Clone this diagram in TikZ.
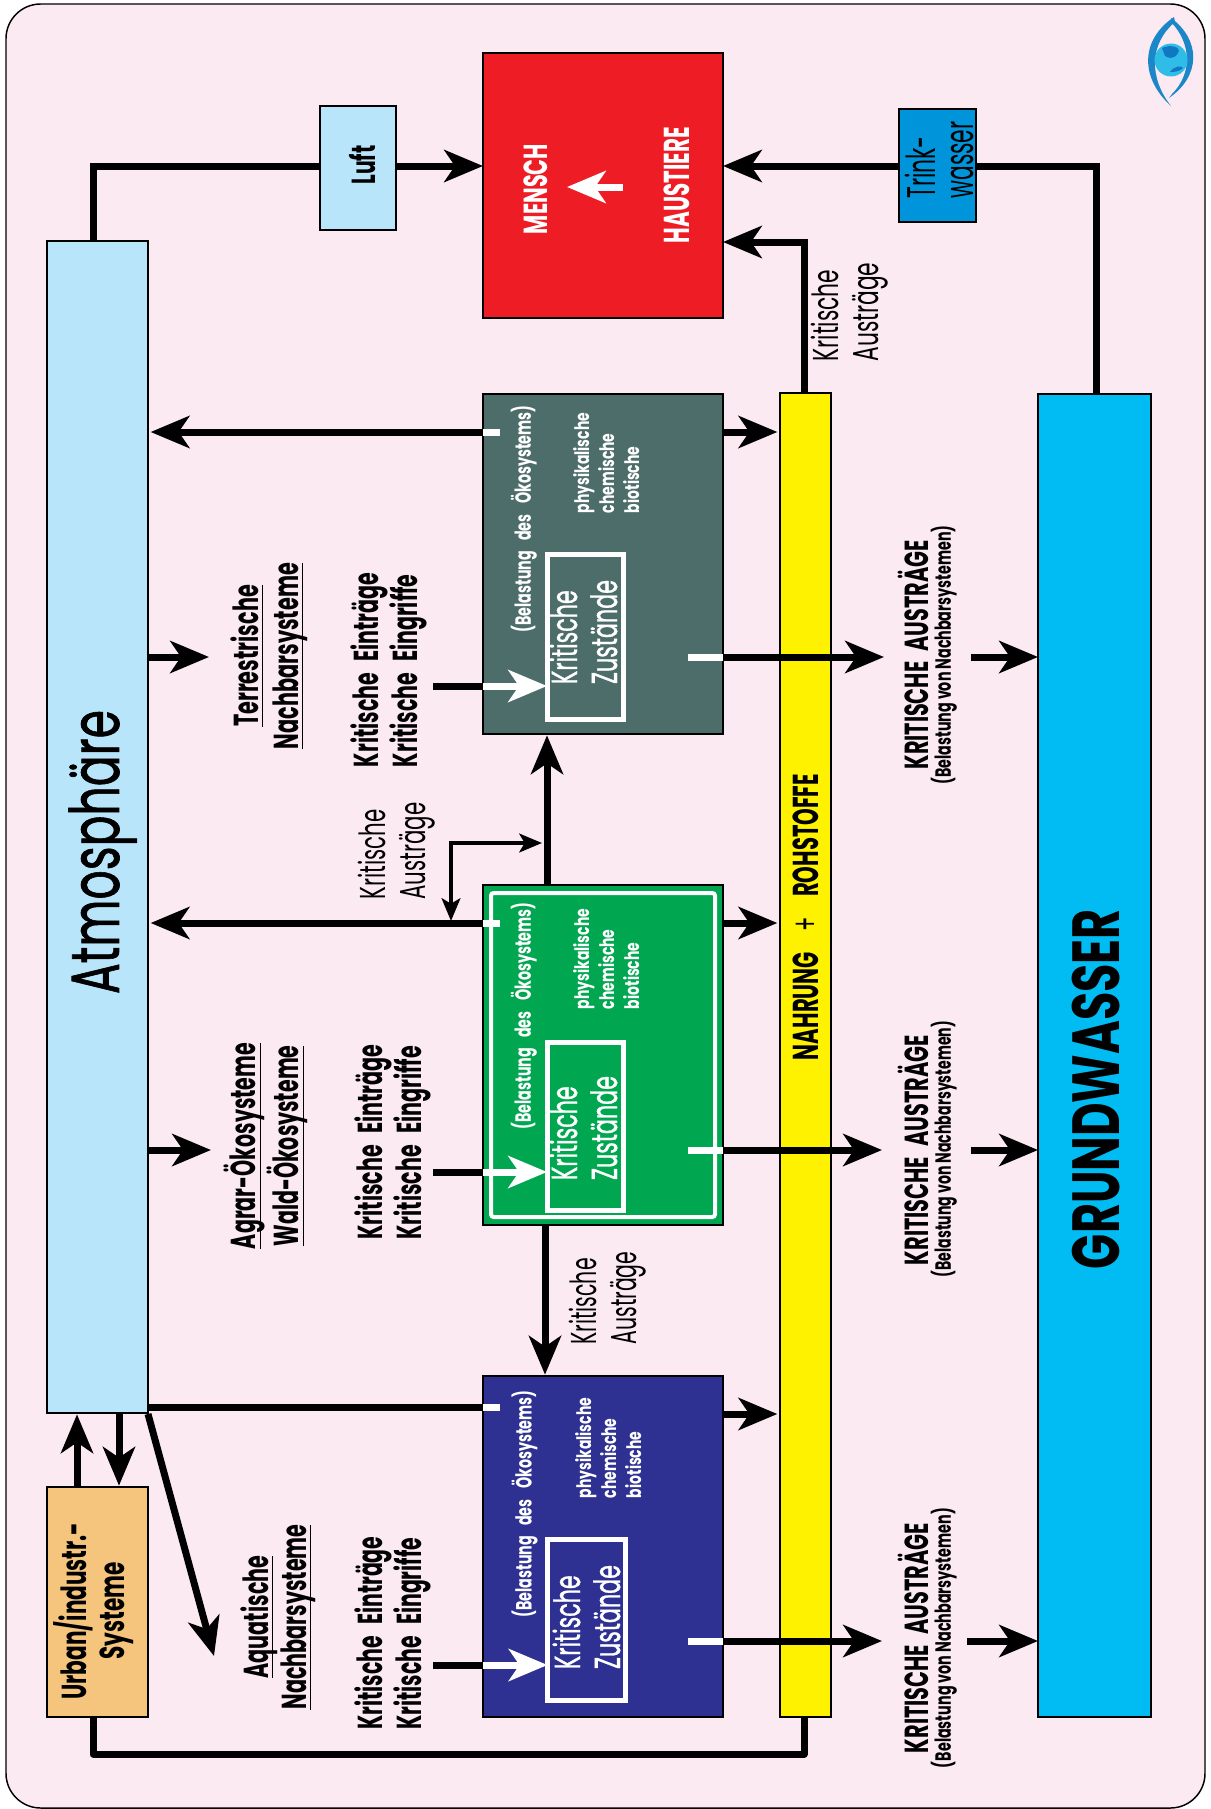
\documentclass[tikz,border=0pt]{standalone}
\usepackage{fontspec}
\usepackage{graphicx}
\setmainfont{Poppins}
\newfontfamily\pfat[FakeBold=1.2]{Poppins}
\usetikzlibrary{arrows.meta,calc}
\definecolor{bgpink}{HTML}{FCEAF3}
\definecolor{cred}{HTML}{EE1C25}
\definecolor{cteal}{HTML}{4D6D6B}
\definecolor{cgreen}{HTML}{00A650}
\definecolor{cblue}{HTML}{2E3192}
\definecolor{cyellow}{HTML}{FFF200}
\definecolor{cground}{HTML}{00BCF2}
\definecolor{catm}{HTML}{B9E5FB}
\definecolor{ctrink}{HTML}{0095DA}
\definecolor{curban}{HTML}{F5C47D}
\definecolor{eyeblue}{HTML}{1B87C9}
\definecolor{globe}{HTML}{2FBDE8}
\definecolor{land}{HTML}{0F78C0}
\newlength\pxu
\setlength\pxu{0.75pt}
\newcommand\tx[5]{\resizebox{#3\pxu}{\height}{\fontsize{#1}{#2}\selectfont\begin{tabular}{@{}#4@{}}#5\end{tabular}}}
\newsavebox\ulbox
\newcommand\ul[1]{\sbox\ulbox{#1}\rlap{\usebox\ulbox}\rule[-3.6pt]{\wd\ulbox}{0.5pt}}
\newcommand\boxnode[7][]{\node[box,fill=#7,minimum width={(#5-#3)*0.75pt},minimum height={(#6-#4)*0.75pt},#1] (#2) at ({(#3+#5)/2},{(#4+#6)/2}) {};}
\tikzset{
  box/.style={draw=black,line width=1.1pt,inner sep=0pt,outer sep=0pt,rectangle},
  lab/.style={rotate=90,inner sep=0pt,outer sep=0pt,anchor=center},
  labb/.style={lab,font=\bfseries},
  labf/.style={lab,font=\pfat},
  wlab/.style={labf,text=white},
  wlabb/.style={labb,text=white},
  flow/.style={line width=5.25pt,line join=miter},
  bigarrow/.style={flow,-{Stealth[length=29pt,width=24pt,inset=8pt]}},
  whitearrow/.style={flow,white,-{Stealth[length=29pt,width=24pt,inset=8pt]}},
  stub/.style={line width=5.25pt,white},
  thinarrow/.style={line width=3pt,{Stealth[length=17pt,width=14pt,inset=4pt]}-{Stealth[length=17pt,width=14pt,inset=4pt]}},
  krit/.style={draw=white,line width=3.75pt,inner sep=0pt,outer sep=0pt,rectangle},
}
\begin{document}
\begin{tikzpicture}[x=0.75pt,y=-0.75pt]
\useasboundingbox (0,0) rectangle (1210,1809);
\fill[white] (0,0) rectangle (1210,1809);
\draw[fill=bgpink,line width=1.1pt,rounded corners=26pt] (6,4) rectangle (1205,1808);

% eye logo
\fill[eyeblue] (1174,17) .. controls (1140,40) and (1140,78) .. (1171,106) .. controls (1149,78) and (1149,44) .. (1175,22) -- cycle;
\fill[eyeblue] (1171,18) .. controls (1201,40) and (1201,76) .. (1169,98) -- (1172,94) .. controls (1192,74) and (1192,44) .. (1171,22) -- cycle;
\fill[globe] (1171,60) circle (16.5);
\fill[land] (1162,48) .. controls (1170,44) and (1182,47) .. (1178,53) .. controls (1174,60) and (1168,58) .. (1165,56) -- cycle;
\fill[land] (1170,72) .. controls (1174,66) and (1182,65) .. (1183,68) .. controls (1180,71) and (1176,72) .. (1170,72) -- cycle;

% main boxes
\boxnode{atm}{47}{241}{148}{1413}{catm}
\boxnode{urban}{47}{1487}{148}{1717}{curban}
\boxnode{red}{483}{53}{723}{318}{cred}
\boxnode{teal}{483}{394}{723}{734}{cteal}
\boxnode{green}{483}{885}{723}{1225}{cgreen}
\boxnode{blue}{483}{1376}{723}{1717}{cblue}
\boxnode{yellow}{780}{393}{831}{1717}{cyellow}
\boxnode{ground}{1038}{394}{1151}{1717}{cground}

% row coordinates
\coordinate (r1) at (0,432);
\coordinate (r2) at (0,657);
\coordinate (r3) at (0,923);
\coordinate (r4) at (0,1150);
\coordinate (r5) at (0,1407);
\coordinate (r6) at (0,1414);
\coordinate (r7) at (0,1641);
\coordinate (c1) at (547,0);
\coordinate (top) at (0,166);
\coordinate (topb) at (0,242);
\coordinate (c2) at (804,0);

% connectors around human box
\coordinate (lineAtm) at (93,166);
\coordinate (lineGw) at (1096,166);
\draw[bigarrow] (lineAtm |- atm.north) -- (lineAtm) -- (red.west |- top);
\draw[bigarrow] (lineGw |- ground.north) -- (lineGw) -- (red.east |- top);
\coordinate (lineY) at (804,242);
\draw[bigarrow] (lineY |- yellow.north) -- (lineY) -- (red.east |- topb);
\boxnode{luft}{320}{106}{396}{230}{catm}
\boxnode{trink}{899}{109}{976}{222}{ctrink}

% to atmosphere
\draw[bigarrow,shorten >=2pt] (teal.west |- r1) -- (atm.east |- r1);
\draw[bigarrow,shorten >=2pt] (green.west |- r3) -- (atm.east |- r3);
\draw[flow] (blue.west |- r5) -- (atm.east |- r5);
% to yellow
\draw[bigarrow,shorten >=2pt] (teal.east |- r1) -- (yellow.west |- r1);
\draw[bigarrow,shorten >=2pt] (green.east |- r3) -- (yellow.west |- r3);
\draw[bigarrow,shorten >=2pt] (blue.east |- r6) -- (yellow.west |- r6);
% outward from ecosystems
\coordinate (t1) at (884,657);
\coordinate (t2) at (882,1150);
\coordinate (t3) at (882,1641);
\draw[bigarrow] (teal.east |- r2) -- (t1);
\draw[bigarrow] (green.east |- r4) -- (t2);
\draw[bigarrow] (blue.east |- r7) -- (t3);
\coordinate (s1) at (971,657);
\coordinate (s2) at (971,1150);
\coordinate (s3) at (967,1641);
\draw[bigarrow] (s1) -- (ground.west |- s1);
\draw[bigarrow] (s2) -- (ground.west |- s2);
\draw[bigarrow] (s3) -- (ground.west |- s3);
% from atmosphere
\coordinate (a1) at (209,657);
\coordinate (a2) at (211,1150);
\coordinate (a3) at (214,1656);
\coordinate (a4) at (148,1414);
\draw[bigarrow] (atm.east |- a1) -- (a1);
\draw[bigarrow] (atm.east |- a2) -- (a2);
\draw[bigarrow] (a4) -- (a3);
% atmosphere <-> urban
\coordinate (u1) at (77,0);
\coordinate (u2) at (119,0);
\coordinate (u3) at (93,0);
\draw[bigarrow,shorten >=1pt] (u1 |- urban.north) -- (u1 |- atm.south);
\draw[bigarrow,shorten >=1pt] (u2 |- atm.south) -- (u2 |- urban.north);
% urban to yellow
\coordinate (b1) at (93,1754);
\coordinate (b2) at (804,1754);
\draw[flow,line join=round] (u3 |- urban.south) -- (b1) -- (b2) -- (c2 |- yellow.south);
% between ecosystems
\draw[bigarrow,shorten >=1pt] (c1 |- green.north) -- (c1 |- teal.south);
\coordinate (c3) at (545,0);
\draw[bigarrow,shorten >=1pt] (c3 |- green.south) -- (c3 |- blue.north);
\coordinate (k1) at (451,921);
\coordinate (k2) at (451,843);
\coordinate (k3) at (542,843);
\draw[thinarrow] (k1) -- (k2) -- (k3);

% inner boxes
\node[krit,minimum width={76*0.75pt},minimum height={165*0.75pt}] (kt) at (585,636.5) {};
\node[krit,minimum width={76*0.75pt},minimum height={168*0.75pt}] (kg) at (585,1126) {};
\node[krit,minimum width={78*0.75pt},minimum height={161*0.75pt}] (kb) at (586.5,1620) {};
\node[draw=white,line width=3pt,rounded corners=2pt,inner sep=0pt,minimum width={224*0.75pt},minimum height={324*0.75pt}] (gframe) at (603,1055) {};

% stubs
\coordinate (w1) at (500,0);
\coordinate (w2) at (688,0);
\draw[stub] (teal.west |- r1) -- (w1 |- r1);
\draw[stub] (green.west |- r3) -- (w1 |- r3);
\draw[stub] (blue.west |- r5) -- (w1 |- r5);
\draw[stub] (teal.east |- r2) -- (w2 |- r2);
\draw[stub] (green.east |- r4) -- (w2 |- r4);
\draw[stub] (blue.east |- r7) -- (w2 |- r7);

% input arrows
\coordinate (i1) at (433,686);
\coordinate (i2) at (433,1172);
\coordinate (i3) at (433,1665);
\draw[flow] (i1) -- (teal.west |- i1);
\draw[flow] (i2) -- (green.west |- i2);
\draw[flow] (i3) -- (blue.west |- i3);
\draw[whitearrow] (teal.west |- i1) -- (kt.west |- i1);
\draw[whitearrow] (green.west |- i2) -- (kg.west |- i2);
\draw[whitearrow] (blue.west |- i3) -- (kb.west |- i3);
% arrow in red box
\coordinate (m1) at (623,187);
\coordinate (m2) at (567,187);
\draw[whitearrow] (m1) -- (m2);

% labels
\node[labf] (tatm) at (104,852) {\tx{51pt}{51pt}{284}{c}{Atmosphäre}};
\node[labb] (tgw) at (1106,1089) {\tx{50pt}{50pt}{360}{c}{GRUNDWASSER}};
\node[labb] (tnah) at (811,917) {\tx{27pt}{27pt}{286}{c}{NAHRUNG\hspace{26pt}{\mdseries+}\hspace{26pt}ROHSTOFFE}};
\node[labb] (tluft) at (367,165) {\tx{25pt}{25pt}{39}{c}{Luft}};
\node[lab] (ttrink) at (945,160) {\tx{30pt}{28.5pt}{77}{l}{Trink-\\wasser}};
\node[lab,font=\rmfamily] (tka1) at (850,312) {\tx{27pt}{30pt}{99}{l}{Kritische\\Austräge}};
\node[lab,font=\rmfamily] (tka2) at (397,851) {\tx{27pt}{30pt}{97}{l}{Kritische\\Austräge}};
\node[lab,font=\rmfamily] (tka3) at (608,1298) {\tx{27pt}{30pt}{93}{l}{Kritische\\Austräge}};
\node[labb] (tterr) at (270,656) {\tx{26pt}{30pt}{186}{c}{\ul{Terrestrische}\\\ul{Nachbarsysteme}}};
\node[labb] (tagr) at (267,1146) {\tx{26pt}{28.5pt}{206}{c}{\ul{Agrar-Ökosysteme}\\\ul{Wald-Ökosysteme}}};
\node[labb] (taqu) at (279,1617) {\tx{26pt}{28.5pt}{185}{c}{\ul{Aquatische}\\\ul{Nachbarsysteme}}};
\node[labb] (tein1) at (390,670) {\tx{26pt}{29pt}{194}{l}{Kritische\hspace{14pt}Einträge\\Kritische\hspace{14pt}Eingriffe}};
\node[labb] (tein2) at (394,1142) {\tx{26pt}{29pt}{195}{l}{Kritische\hspace{14pt}Einträge\\Kritische\hspace{14pt}Eingriffe}};
\node[labb] (tein3) at (394,1633) {\tx{26pt}{29pt}{193}{l}{Kritische\hspace{14pt}Einträge\\Kritische\hspace{14pt}Eingriffe}};
\node[labb] (turb) at (95,1611) {\tx{26pt}{28.5pt}{177}{c}{Urban/industr.-\\Systeme}};
\node[labb] (tau1) at (918,655) {\tx{25pt}{25pt}{229}{c}{KRITISCHE\hspace{12pt}AUSTRÄGE}};
\node[labb] (tbn1) at (944,655) {\tx{16.5pt}{16.5pt}{259}{c}{(Belastung von Nachbarsystemen)}};
\node[labb] (tau2) at (918,1150) {\tx{25pt}{25pt}{230}{c}{KRITISCHE\hspace{12pt}AUSTRÄGE}};
\node[labb] (tbn2) at (944,1149) {\tx{16.5pt}{16.5pt}{256}{c}{(Belastung von Nachbarsystemen)}};
\node[labb] (tau3) at (918,1638) {\tx{25pt}{25pt}{230}{c}{KRITISCHE\hspace{12pt}AUSTRÄGE}};
\node[labb] (tbn3) at (944,1638) {\tx{16.5pt}{16.5pt}{260}{c}{(Belastung von Nachbarsystemen)}};

\node[wlabb] (tm) at (541,189) {\tx{25pt}{25pt}{90}{c}{MENSCH}};
\node[wlabb] (th) at (682,185) {\tx{27pt}{27pt}{116}{c}{HAUSTIERE}};
\foreach \n/\bx/\by/\px/\py/\kx/\ky in {a/524/519/609/463/589/632, b/524/1016/609/959/589/1128, c/525/1504/611/1448/592/1617}{
  \node[wlabb] (tb\n) at (\bx,\by) {\tx{16.5pt}{16.5pt}{227}{c}{(Belastung\hspace{12pt}des\hspace{12pt}Ökosystems)}};
  \node[wlabb] (tp\n) at (\px,\py) {\tx{15pt}{18.75pt}{100}{l}{physikalische\\chemische\\biotische}};
  \node[wlab] (tk\n) at (\kx,\ky) {\tx{27pt}{30pt}{104}{l}{Kritische\\Zustände}};
}
\end{tikzpicture}
\end{document}
